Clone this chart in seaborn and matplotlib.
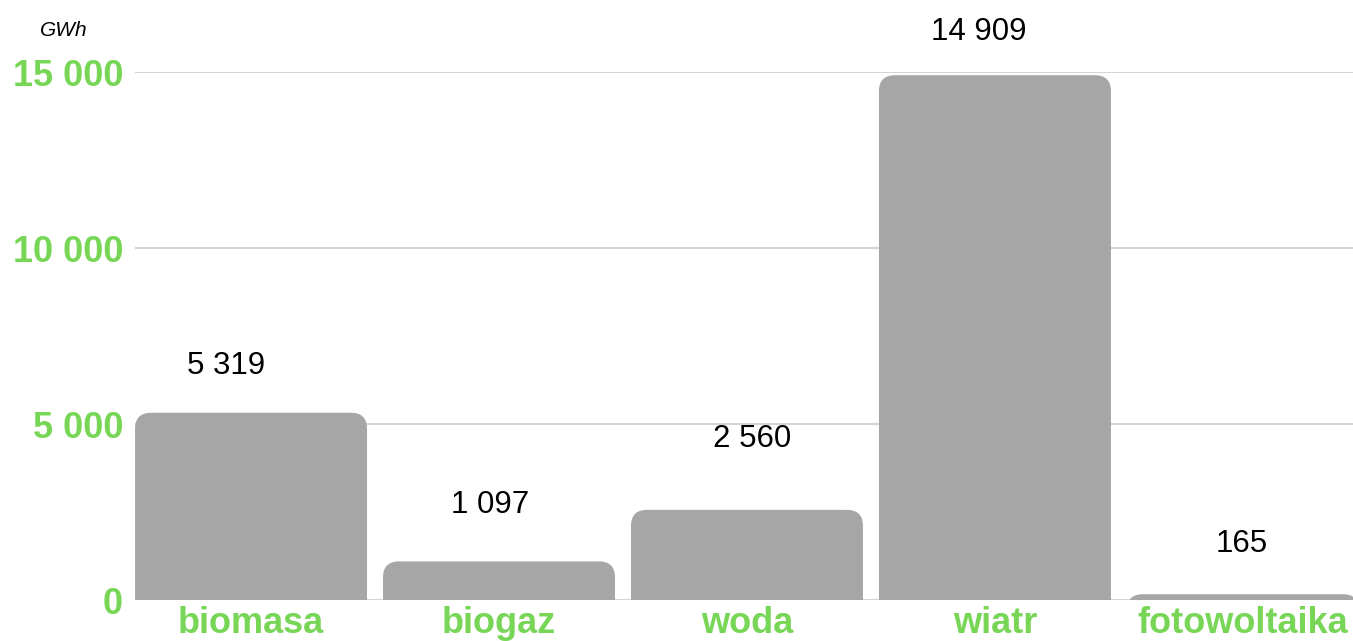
import matplotlib
matplotlib.use("Agg")
import matplotlib.pyplot as plt
from matplotlib.patches import FancyBboxPatch
import pandas as pd
import seaborn as sns

# dane
categories = ["biomasa", "biogaz", "woda", "wiatr", "fotowoltaika"]
values = [5319, 1097, 2560, 14909, 165]
value_labels = ["5 319", "1 097", "2 560", "14 909", "165"]
ytick_values = [0, 5000, 10000, 15000]
ytick_labels = ["0", "5 000", "10 000", "15 000"]
unit = "GWh"

# układ etykiet nad słupkami (px: dx, dy od środka wierzchołka)
label_shift = [(-25, 47), (-9, 56), (5, 71), (-16, 43), (-1, 50)]

green = "#77d656"
bar_color = "#a6a6a6"

sns.set_style("white")
plt.rcParams["font.family"] = ["Liberation Sans", "DejaVu Sans"]

df = pd.DataFrame({"kat": categories, "gwh": values})

fig = plt.figure(figsize=(13.53, 6.41), dpi=100)
ax = fig.add_axes([135 / 1353, 41 / 641, 1 - 135 / 1353, 528 / 641])

sns.barplot(data=df, x="kat", y="gwh", color=bar_color, width=232 / 248,
            saturation=1, ax=ax)

ax.set_xlim(-0.468, 4.444)
ax.set_ylim(0, 15000)

# zaokrąglone rogi
px_x = 1 / 248.0
px_y = 15000 / 528.0
r = 16
for p in list(ax.patches):
    x, w, h = p.get_x(), p.get_width(), p.get_height()
    p.remove()
    bottom = -2000
    fb = FancyBboxPatch((x, bottom), w, h - bottom,
                        boxstyle=f"round,pad=0,rounding_size={r * px_x}",
                        mutation_aspect=px_y / px_x,
                        facecolor=bar_color, edgecolor="none", zorder=2)
    ax.add_patch(fb)

for i, (v, lab) in enumerate(zip(values, value_labels)):
    dx, dy = label_shift[i]
    ax.annotate(lab, (i, v), xytext=(dx * 0.72, dy * 0.72), textcoords="offset points",
                ha="center", va="center", fontsize=22.5, color="black",
                annotation_clip=False)

ax.set_yticks(ytick_values)
ax.set_yticklabels(ytick_labels)
ax.grid(axis="y", color="#c8c8c8", linewidth=1.1, zorder=0)
ax.set_axisbelow(True)
for s in ax.spines.values():
    s.set_visible(False)

ax.tick_params(axis="y", length=0, pad=8.5, labelsize=26, labelcolor=green)
ax.tick_params(axis="x", length=0, pad=4.5, labelsize=26, labelcolor=green)
for t in ax.get_yticklabels() + ax.get_xticklabels():
    t.set_fontweight("bold")
ax.set_xlabel("")
ax.set_ylabel("")

fig.text(64 / 1353, 1 - 30 / 641, unit, ha="center", va="center",
         fontsize=15, fontstyle="italic", color="black")

fig.savefig("out.png", dpi=100)
